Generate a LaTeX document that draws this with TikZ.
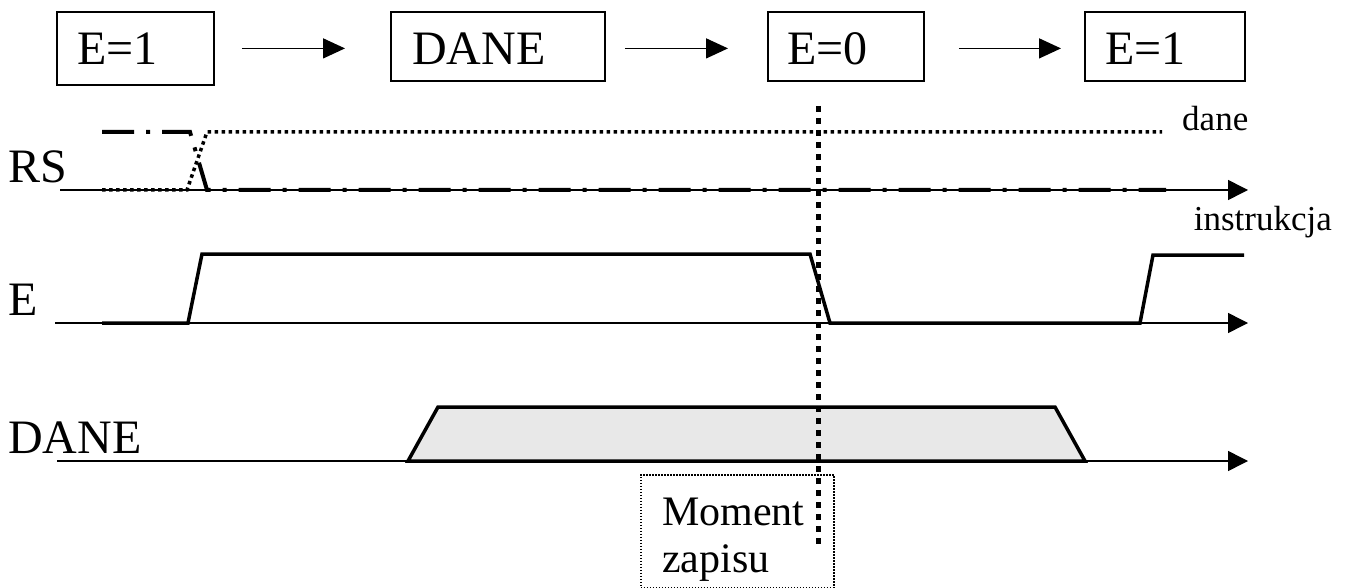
\documentclass[tikz,border=0pt]{standalone}
\usepackage{fontspec}
\setmainfont{Liberation Serif}
\usetikzlibrary{arrows.meta}
\begin{document}
\begin{tikzpicture}[x=1pt,y=-1pt,
  box/.style={draw, line width=1.8pt, inner sep=0pt, anchor=north west},
  big/.style={font=\fontsize{48}{52}\selectfont, inner sep=0pt, anchor=base west},
  mid/.style={font=\fontsize{42}{46}\selectfont, inner sep=0pt, anchor=base west},
  small/.style={font=\fontsize{35}{38}\selectfont, inner sep=0pt},
  arr/.style={line width=1.5pt, -{Triangle[length=22pt,width=20pt]}},
  axis/.style={line width=1.5pt, -{Triangle[length=20pt,width=20pt]}},
  sig/.style={line width=3.5pt, line join=miter},
  dotsig/.style={line width=3.5pt, dash pattern=on 3.5pt off 3.5pt},
  dashdot/.style={line width=4pt, dash pattern=on 32pt off 12pt on 4pt off 12pt},
  marker/.style={line width=5pt, dash pattern=on 6pt off 6pt},
  notebox/.style={draw, line width=1.5pt, dash pattern=on 1.5pt off 1.5pt, inner sep=0pt, anchor=north west}
]
\useasboundingbox (0,0) rectangle (1349,588);

% top row of states
\node[box, minimum width=157pt, minimum height=73pt] (b1) at (56,11) {};
\node[box, minimum width=214pt, minimum height=69pt] (b2) at (390,11) {};
\node[box, minimum width=156pt, minimum height=69pt] (b3) at (767,11) {};
\node[box, minimum width=160pt, minimum height=69pt] (b4) at (1084,11) {};
\node[big] (t1) at (77,65) {E=1};
\node[big] (t2) at (412,65) {DANE};
\node[big] (t3) at (787,65) {E=0};
\node[big] (t4) at (1105,65) {E=1};
\draw[arr, shorten <=27pt, shorten >=45pt] (b1.east) -- (b1.east -| b2.west);
\draw[arr, shorten <=19pt, shorten >=39pt] (b2.east |- b1.east) -- (b1.east -| b3.west);
\draw[arr, shorten <=34pt, shorten >=23pt] (b3.east |- b1.east) -- (b1.east -| b4.west);

% labels
\node[big] (lrs) at (8,183) {RS};
\node[big] (le) at (8,315) {E};
\node[big] (ld) at (8,453) {DANE};
\node[small, anchor=base west] (ldane) at (1182,131) {dane};
\node[small, anchor=base east] (linstr) at (1332,230) {instrukcja};

% axes
\draw[axis] (60,190) -- (1248,190);
\draw[axis] (55,323) -- (1248,323);
\draw[axis] (57,461) -- (1248,461);

% RS signals
\draw[dotsig] (102,190) -- (187,190) -- (207,132) -- (1162,132);
\draw[dashdot] (102,132) -- (190,132) -- (207,190) -- (1166,190);

% E signal
\draw[sig] (102,323) -- (188,323) -- (202,254) -- (810,254) -- (830,323) -- (1140,323) -- (1153,255) -- (1244,255);

% DANE signal
\draw[sig, fill=black!9] (408,461) -- (438,407) -- (1055,407) -- (1085,461) -- cycle;

% write moment
\node[notebox, minimum width=193pt, minimum height=113pt] (mb) at (640,474) {};
\node[mid] (m1) at (662,525) {Moment};
\node[mid] (m2) at (662,572) {zapisu};
\draw[marker] (818,106) -- (818,548);
\end{tikzpicture}
\end{document}
